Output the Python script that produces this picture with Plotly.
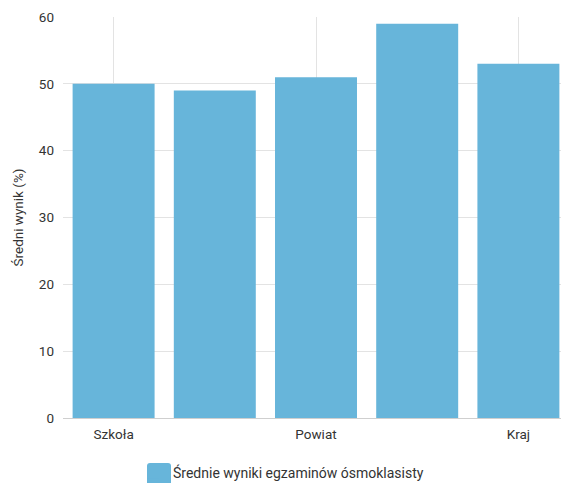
import plotly.graph_objects as go

categories = ["Szkoła", "Gmina", "Powiat", "Województwo", "Kraj"]
values = [50, 49, 51, 59, 53]
shown_ticks = ["Szkoła", "Powiat", "Kraj"]
series_name = "Średnie wyniki egzaminów ósmoklasisty"
y_title = "Średni wynik (%)"
y_ticks = [0, 10, 20, 30, 40, 50, 60]

BAR = "#67b5da"
FONT = "Roboto, Arial, sans-serif"
OFF = 8  # default page body margin in the browser
W, H = 569 - OFF, 483 - OFF
ML, MR, MT, MB = 63 - OFF, 0, 17 - OFF, 65
PW, PH = W - ML - MR, H - MT - MB


def px_x(px):
    """page pixel x -> paper coordinate"""
    return (px - OFF - ML) / PW


def px_y(py):
    """page pixel y -> paper coordinate"""
    return (H - MB - (py - OFF)) / PH


fig = go.Figure()
fig.add_trace(go.Bar(x=categories, y=values, name=series_name,
                     marker=dict(color=BAR, line=dict(width=0)),
                     showlegend=True))

# larger rounded legend swatch behind the legend symbol
x0, x1, y0, y1 = px_x(147), px_x(171), px_y(463), px_y(490)
r = 3
rx, ry = r / PW, r / PH
path = (f"M {x0+rx},{y0} L {x1-rx},{y0} Q {x1},{y0} {x1},{y0-ry} "
        f"L {x1},{y1+ry} Q {x1},{y1} {x1-rx},{y1} L {x0+rx},{y1} "
        f"Q {x0},{y1} {x0},{y1+ry} L {x0},{y0-ry} Q {x0},{y0} {x0+rx},{y0} Z")
fig.add_shape(type="path", path=path, xref="paper", yref="paper",
              fillcolor=BAR, line=dict(width=0), layer="above")

fig.update_layout(
    width=W, height=H,
    margin=dict(l=ML, r=MR, t=MT, b=MB, autoexpand=False),
    paper_bgcolor="white", plot_bgcolor="white",
    font=dict(family=FONT, size=13.5, color="#333333"),
    bargap=0.19,
    showlegend=True,
    legend=dict(orientation="h", xref="container", yref="container",
                x=(176 - OFF - 43) / W, xanchor="left",
                y=(483 - 473) / H, yanchor="middle",
                font=dict(size=14, color="#333333"),
                bgcolor="rgba(0,0,0,0)"),
    xaxis=dict(type="category", categoryorder="array", categoryarray=categories,
               range=[-0.5, 4.5], tickmode="array", tickvals=shown_ticks,
               ticktext=shown_ticks, showgrid=True, gridcolor="#e3e3e3", gridwidth=1,
               showline=False, ticks="", ticklabelstandoff=6, automargin=False,
               tickfont=dict(size=13.5, color="#333333")),
    yaxis=dict(range=[0, 60], tickvals=y_ticks, showgrid=True, gridcolor="#e3e3e3",
               gridwidth=1, zeroline=True, zerolinecolor="#cfcfcf", zerolinewidth=1,
               showline=False, ticks="", ticklabelstandoff=8, automargin=False,
               tickfont=dict(size=13.5, color="#333333"),
               title=dict(text=y_title, font=dict(size=13.5, color="#333333"), standoff=12)),
)

fig.write_html("out.html")
